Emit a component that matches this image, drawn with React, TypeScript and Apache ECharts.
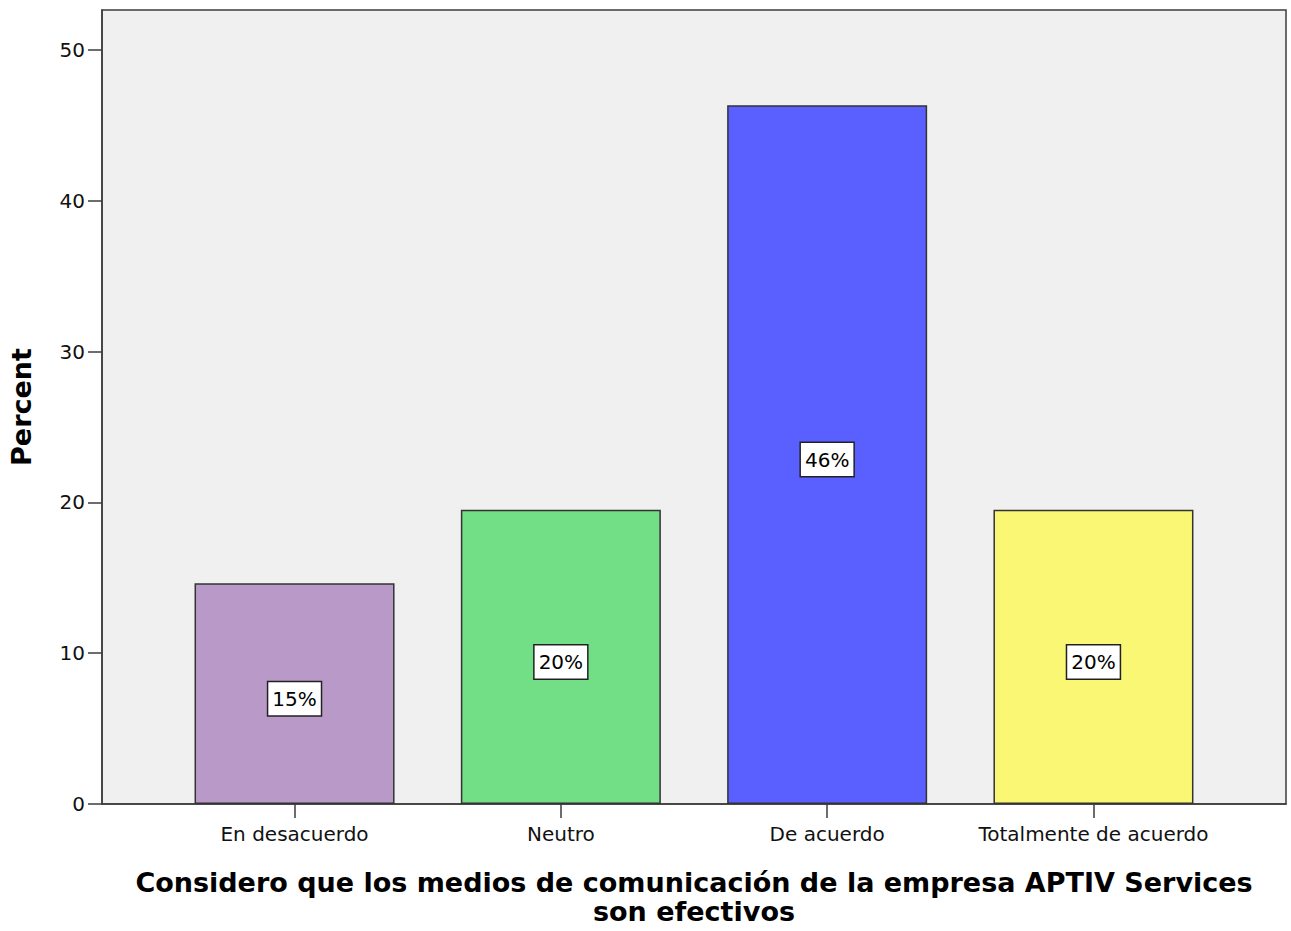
import React, { useEffect, useRef } from "react";
import * as echarts from "echarts";

const categories = ["En desacuerdo", "Neutro", "De acuerdo", "Totalmente de acuerdo"];
const percents = [14.63, 19.51, 46.34, 19.51];
const barColors = ["#b899c8", "#72de86", "#5a5fff", "#faf775"];
const yTicks = [0, 10, 20, 30, 40, 50];
const xTitle = "Considero que los medios de comunicación de la empresa APTIV Services\nson efectivos";
const yTitle = "Percent";

export default function App() {
  const ref = useRef<HTMLDivElement>(null);
  useEffect(() => {
    if (!ref.current) return;
    const chart = echarts.init(ref.current, null, { renderer: "svg" });
    const font = "'DejaVu Sans', sans-serif";
    chart.setOption({
      animation: false,
      backgroundColor: "#ffffff",
      grid: {
        left: 100,
        top: 10,
        right: 5,
        bottom: 126,
        show: true,
        backgroundColor: "#f0f0f0",
        borderColor: "#3c3c3c",
        borderWidth: 1.5,
      },
      xAxis: {
        type: "value",
        min: -0.723,
        max: 3.723,
        name: xTitle,
        nameLocation: "middle",
        nameGap: 64,
        nameTextStyle: {
          fontFamily: font,
          fontWeight: "bold",
          fontSize: 27,
          lineHeight: 29,
          color: "#000",
        },
        axisLine: { show: true, onZero: false, lineStyle: { color: "#3c3c3c", width: 1.5 } },
        axisTick: {
          show: true,
          length: 14,
          customValues: [0, 1, 2, 3],
          lineStyle: { color: "#3c3c3c", width: 1.5 },
        },
        axisLabel: {
          customValues: [0, 1, 2, 3],
          formatter: (v: number) => categories[Math.round(v)] ?? "",
          fontFamily: font,
          fontSize: 20,
          color: "#111",
          margin: 20,
        },
        splitLine: { show: false },
      },
      yAxis: {
        type: "value",
        min: 0,
        max: 52.65,
        name: yTitle,
        nameLocation: "middle",
        nameGap: 67,
        nameTextStyle: {
          fontFamily: font,
          fontWeight: "bold",
          fontSize: 27,
          color: "#000",
        },
        axisLine: { show: true, onZero: false, lineStyle: { color: "#3c3c3c", width: 1.5 } },
        axisTick: {
          show: true,
          length: 14,
          customValues: yTicks,
          lineStyle: { color: "#3c3c3c", width: 1.5 },
        },
        axisLabel: {
          customValues: yTicks,
          fontFamily: font,
          fontSize: 20,
          color: "#111",
          margin: 17,
        },
        splitLine: { show: false },
      },
      series: [
        {
          type: "bar",
          barWidth: 200,
          data: percents.map((p, i) => ({
            value: [i, p],
            itemStyle: { color: barColors[i] },
          })),
          itemStyle: { borderColor: "#333", borderWidth: 1.5 },
          label: {
            show: true,
            position: "inside",
            offset: [0, 5],
            formatter: (p: any) => Math.round(p.value[1]) + "%",
            fontFamily: font,
            fontSize: 20,
            color: "#000",
            backgroundColor: "#ffffff",
            borderColor: "#222",
            borderWidth: 1.5,
            padding: [7, 4, 6, 4],
          },
        },
      ],
    });
    return () => chart.dispose();
  }, []);
  return (
    <div
      ref={ref}
      style={{ position: "absolute", left: 0, top: 0, width: 1291, height: 931 }}
    />
  );
}
